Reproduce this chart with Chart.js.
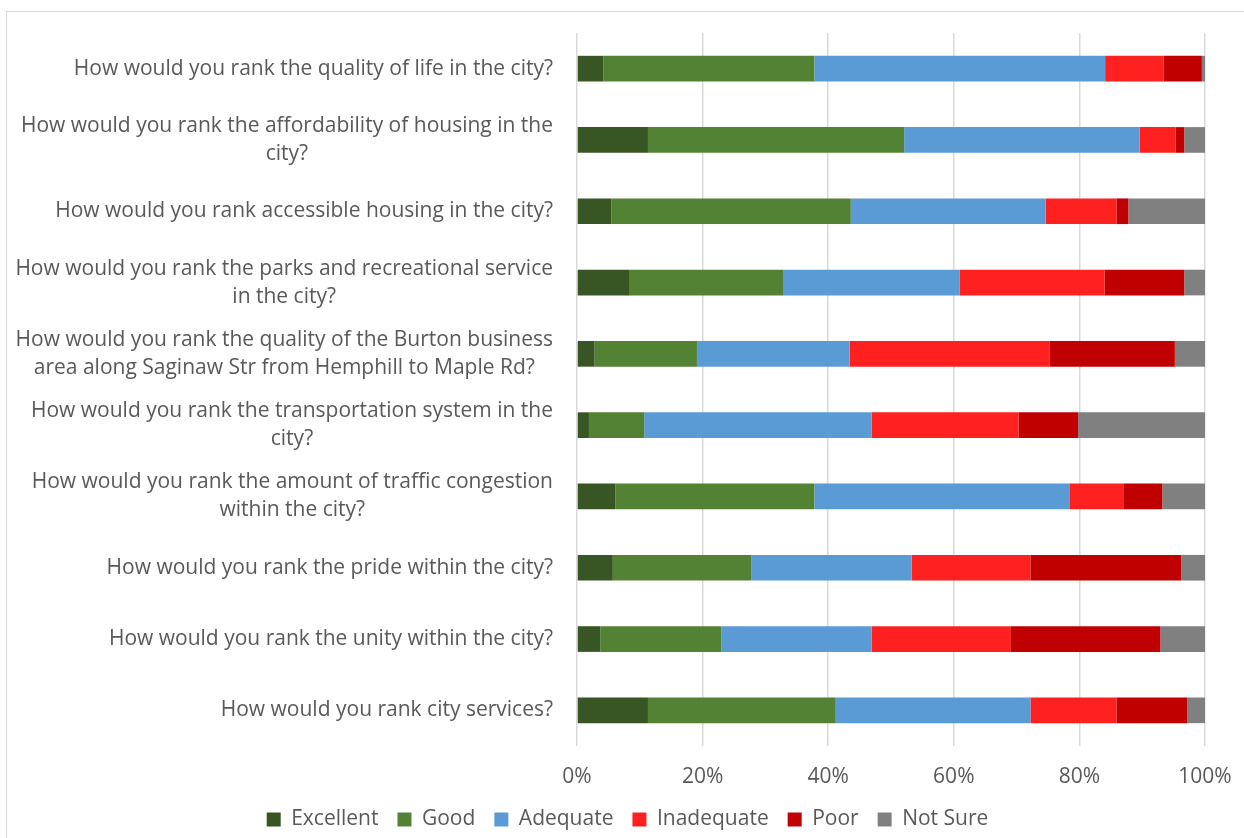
<!DOCTYPE html>
<html>
<head>
<meta charset="utf-8">
<script src="https://cdn.jsdelivr.net/npm/chart.js@4/dist/chart.umd.min.js"></script>
<style>
    html, body { margin: 0; padding: 0; background: #fff; overflow: hidden; }
    .frame {
        position: absolute; left: 6px; top: 11px; width: 1400px; height: 900px;
        border-left: 1px solid #d9d9d9; border-top: 1px solid #d9d9d9;
    }
    .chart-container { position: absolute; left: 0; top: 0; width: 1244px; height: 838px; }
</style>
</head>
<body>
<div class="frame"></div>
<div class="chart-container">
    <canvas id="chart" width="1244" height="838"></canvas>
</div>
<script>
    // survey questions, one line per entry (wrapped like the original)
    const questions = [
        ["How would you rank the quality of life in the city?"],
        ["How would you rank the affordability of housing in the", "city?"],
        ["How would you rank accessible housing in the city?"],
        ["How would you rank the parks and recreational service", "in the city?"],
        ["How would you rank the quality of the Burton business", "area along Saginaw Str from Hemphill to Maple Rd?"],
        ["How would you rank the transportation system in the", "city?"],
        ["How would you rank the amount of traffic congestion", "within the city?"],
        ["How would you rank the pride within the city?"],
        ["How would you rank the unity within the city?"],
        ["How would you rank city services?"]
    ]

    // share of answers, percent
    const excellent  = [4.2, 11.3, 5.5, 8.4, 2.8, 1.9, 6.1, 5.7, 3.7, 11.3]
    const good       = [33.6, 40.8, 38.1, 24.4, 16.3, 8.8, 31.7, 22.1, 19.3, 29.9]
    const adequate   = [46.3, 37.5, 31.0, 28.1, 24.3, 36.2, 40.7, 25.5, 23.9, 31.0]
    const inadequate = [9.3, 5.7, 11.3, 23.1, 31.9, 23.4, 8.6, 18.9, 22.2, 13.7]
    const poor       = [6.1, 1.4, 1.9, 12.7, 19.9, 9.5, 6.1, 24.0, 23.8, 11.3]
    const notSure    = [0.5, 3.3, 12.2, 3.3, 4.8, 20.2, 6.8, 3.8, 7.1, 2.8]

    const xTicks = [0, 20, 40, 60, 80, 100]

    const TEXT = "#595959"
    const FONT = "'Open Sans', sans-serif"
    const SIZE = 21

    Chart.defaults.font.family = FONT
    Chart.defaults.color = TEXT

    // draws the question labels, each block centred on its own width
    const questionLabels = {
        id: "questionLabels",
        afterDraw(chart) {
            const ctx = chart.ctx
            const y = chart.scales.y
            const right = y.right - 24
            const lineGap = 28
            ctx.save()
            ctx.font = SIZE + "px " + FONT
            ctx.fillStyle = TEXT
            ctx.textAlign = "center"
            ctx.textBaseline = "middle"
            questions.forEach((lines, i) => {
                const cy = y.getPixelForTick(i)
                const widest = Math.max(...lines.map(l => ctx.measureText(l).width))
                const cx = right - widest / 2
                lines.forEach((l, j) => {
                    ctx.fillText(l, cx, cy + (j - (lines.length - 1) / 2) * lineGap)
                })
            })
            ctx.restore()
        }
    }

    const makeSet = (label, data, color) => ({
        label: label,
        data: data,
        backgroundColor: color,
        borderWidth: 0,
        categoryPercentage: 0.36,
        barPercentage: 1
    })

    new Chart(document.getElementById("chart").getContext("2d"), {
        type: "bar",
        data: {
            labels: questions.map(q => q.join(" ")),
            datasets: [
                makeSet("Excellent", excellent, "#375623"),
                makeSet("Good", good, "#548235"),
                makeSet("Adequate", adequate, "#5b9bd5"),
                makeSet("Inadequate", inadequate, "#ff2020"),
                makeSet("Poor", poor, "#c00000"),
                makeSet("Not Sure", notSure, "#808080")
            ]
        },
        options: {
            indexAxis: "y",
            responsive: false,
            animation: false,
            layout: { padding: { left: 50, right: 39, top: 33, bottom: -2 } },
            scales: {
                x: {
                    stacked: true,
                    min: 0,
                    max: 100,
                    afterBuildTicks: (scale) => { scale.ticks = xTicks.map(v => ({ value: v })) },
                    afterFit: (scale) => {
                        scale.height = 44
                        scale.paddingLeft = 0
                        scale.paddingRight = 0
                    },
                    border: { display: false },
                    grid: { color: "#d9d9d9", lineWidth: 1.5, drawTicks: false },
                    ticks: {
                        padding: 18,
                        font: { size: SIZE },
                        color: TEXT,
                        callback: (v) => v + "%"
                    }
                },
                y: {
                    stacked: true,
                    afterFit: (scale) => { scale.width = 527 },
                    border: { display: false },
                    grid: { display: false },
                    ticks: { display: false }
                }
            },
            plugins: {
                legend: {
                    position: "bottom",
                    labels: {
                        boxWidth: 14,
                        boxHeight: 14,
                        padding: 19,
                        font: { size: SIZE },
                        color: TEXT
                    }
                },
                tooltip: { enabled: false }
            }
        },
        plugins: [questionLabels]
    })
</script>
</body>
</html>
